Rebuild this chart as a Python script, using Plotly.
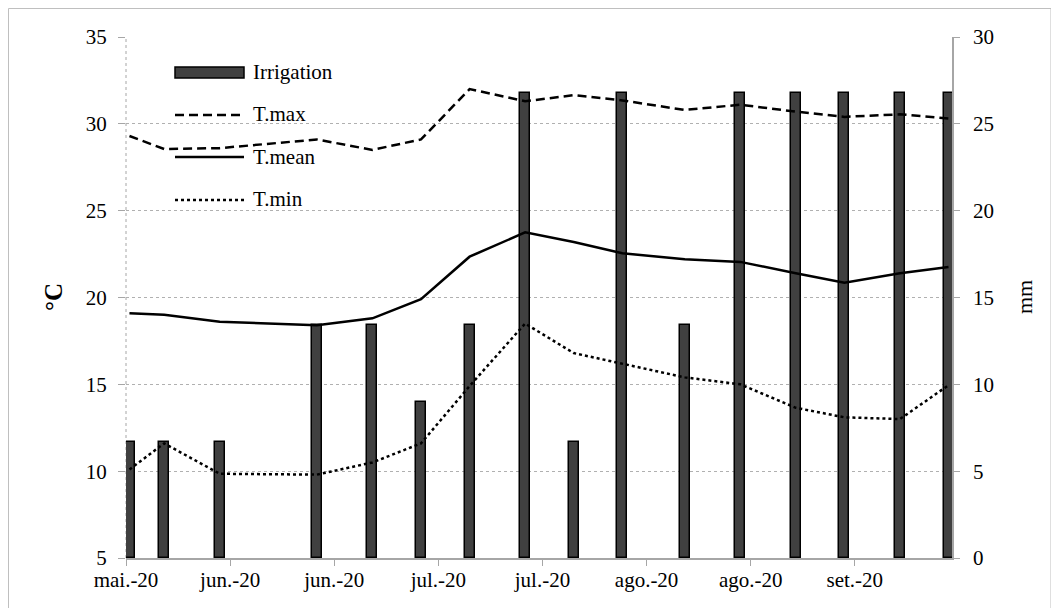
import pandas as pd
import plotly.graph_objects as go

# ---- data ----
dates = ["2020-05-20", "2020-05-25", "2020-06-02", "2020-06-16", "2020-06-24", "2020-07-01",
         "2020-07-08", "2020-07-16", "2020-07-23", "2020-07-30", "2020-08-08", "2020-08-16",
         "2020-08-24", "2020-08-31", "2020-09-08", "2020-09-15"]
irrigation = [6.7, 6.7, 6.7, 13.4, 13.4, 9.0, 13.4, 26.8, 6.7, 26.8, 13.4, 26.8, 26.8, 26.8, 26.8, 26.8]
t_max = [29.3, 28.55, 28.6, 29.1, 28.5, 29.1, 32.0, 31.3, 31.65, 31.35, 30.8, 31.1, 30.7, 30.4, 30.55, 30.3]
t_mean = [19.1, 19.0, 18.6, 18.4, 18.8, 19.9, 22.35, 23.75, 23.2, 22.55, 22.2, 22.05, 21.4, 20.85, 21.4, 21.75]
t_min = [10.1, 11.6, 9.85, 9.8, 10.5, 11.6, 14.9, 18.5, 16.8, 16.2, 15.4, 15.0, 13.65, 13.1, 13.0, 14.95]
tick_labels = ["mai.-20", "jun.-20", "jun.-20", "jul.-20", "jul.-20", "ago.-20", "ago.-20", "set.-20"]
tick_step_days = 15

FONT = "Liberation Serif"
x = pd.to_datetime(dates)
start = x[0] - pd.Timedelta(hours=12)
end = x[-1] + pd.Timedelta(hours=12)
tickvals = [start + pd.Timedelta(days=tick_step_days * k) for k in range(len(tick_labels))]

# page offset (body margin) and plot area in screenshot pixels
OFF = 8
W, H = 1059, 608
L, R, T, B = 126 - OFF, 952 - OFF, 37 - OFF, 558 - OFF

def px(xs):
    return (xs - OFF - L) / (R - L)

def py(ys):
    return (B - (ys - OFF)) / (B - T)

fig = go.Figure()
fig.add_trace(go.Bar(
    x=x, y=irrigation, name="Irrigation", yaxis="y",
    width=1.45 * 86400000,
    marker=dict(color="#404040", line=dict(color="#000000", width=1.5)),
    showlegend=False,
))
fig.add_trace(go.Scatter(x=x, y=t_max, name="T.max", yaxis="y2", mode="lines",
                         line=dict(color="black", width=2.5, dash="9px,5px"), showlegend=False))
fig.add_trace(go.Scatter(x=x, y=t_mean, name="T.mean", yaxis="y2", mode="lines",
                         line=dict(color="black", width=2.5), showlegend=False))
fig.add_trace(go.Scatter(x=x, y=t_min, name="T.min", yaxis="y2", mode="lines",
                         line=dict(color="black", width=2.5, dash="dot"), showlegend=False))

axis_font = dict(family=FONT, size=21, color="black")

fig.update_layout(
    width=W, height=H,
    margin=dict(l=L, r=W - R, t=T, b=H - B, autoexpand=False),
    paper_bgcolor="white", plot_bgcolor="white",
    font=dict(family=FONT, size=21, color="black"),
    bargap=0,
    xaxis=dict(
        type="date", range=[start, end], automargin=False,
        tickvals=tickvals, ticktext=tick_labels,
        showgrid=False, zeroline=False,
        showline=True, linecolor="#a6a6a6", linewidth=1.5,
        ticks="outside", ticklen=6, tickcolor="#a6a6a6",
        tickfont=axis_font, ticklabelstandoff=-4,
    ),
    yaxis=dict(
        side="right", range=[0, 30], dtick=5, tick0=0, automargin=False,
        showgrid=True, gridcolor="#b0b0b0", gridwidth=1, griddash="dot",
        zeroline=False,
        showline=True, linecolor="#a6a6a6", linewidth=1.5,
        ticks="outside", ticklen=6, tickcolor="#a6a6a6",
        tickfont=axis_font, ticklabelstandoff=9,
    ),
    yaxis2=dict(
        side="left", overlaying="y", range=[5, 35], dtick=5, tick0=5, automargin=False,
        showgrid=False, zeroline=False, showline=False,
        ticks="outside", ticklen=7, tickcolor="#a6a6a6",
        tickfont=axis_font, ticklabelstandoff=7,
    ),
)

shapes = []
# dotted left axis line
shapes.append(dict(type="line", xref="paper", yref="paper", x0=0, x1=0, y0=0, y1=1,
                   line=dict(color="#a6a6a6", width=1, dash="dot"), layer="below"))
# outer frame
shapes.append(dict(type="rect", xref="paper", yref="paper",
                   x0=px(8.5), x1=px(1051), y0=py(620), y1=py(8.5),
                   line=dict(color="#bfbfbf", width=1), layer="below"))

# custom legend
leg_x0, leg_x1, leg_tx = 175, 244, 251
shapes.append(dict(type="rect", xref="paper", yref="paper",
                   x0=px(leg_x0), x1=px(leg_x1), y0=py(78), y1=py(67),
                   fillcolor="#404040", line=dict(color="black", width=1.5)))
for yy, dash in [(115, "9px,5px"), (157, "solid"), (200, "dot")]:
    shapes.append(dict(type="line", xref="paper", yref="paper",
                       x0=px(leg_x0), x1=px(leg_x1), y0=py(yy), y1=py(yy),
                       line=dict(color="black", width=2.5, dash=dash)))

annotations = []
for label, yy in [("Irrigation", 72), ("T.max", 114), ("T.mean", 156.5), ("T.min", 199)]:
    annotations.append(dict(text=label, xref="paper", yref="paper", x=px(leg_tx), y=py(yy),
                            xanchor="left", yanchor="middle", showarrow=False,
                            font=dict(family=FONT, size=21, color="black")))
annotations.append(dict(text="<b>°C</b>", xref="paper", yref="paper", x=px(53), y=py(297),
                        textangle=-90, showarrow=False, xanchor="center", yanchor="middle",
                        font=dict(family=FONT, size=25, color="black")))
annotations.append(dict(text="mm", xref="paper", yref="paper", x=px(1024), y=py(297),
                        textangle=-90, showarrow=False, xanchor="center", yanchor="middle",
                        font=dict(family=FONT, size=22, color="black")))

fig.update_layout(shapes=shapes, annotations=annotations)
fig.write_html("out.html")
